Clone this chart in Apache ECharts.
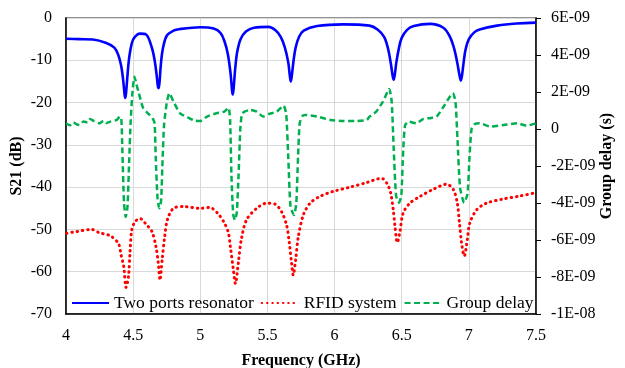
<!DOCTYPE html>
<html>
<head>
<meta charset="utf-8">
<script src="https://cdn.jsdelivr.net/npm/echarts@6/dist/echarts.min.js"></script>
<style>
  html, body { margin: 0; padding: 0; background: #fff; }
  #chart { width: 625px; height: 368px; }
</style>
</head>
<body>
<div id="chart"></div>
<script>
// Two-port resonator transmission (dB)
const resonatorFreq = [4.00, 4.10, 4.20, 4.30, 4.36, 4.39, 4.41, 4.425, 4.437, 4.442, 4.448, 4.458, 4.47, 4.49, 4.51, 4.55,
  4.596, 4.64, 4.66, 4.675, 4.685, 4.69, 4.697, 4.705, 4.72, 4.75, 4.80, 4.85, 5.00, 5.10,
  5.15, 5.18, 5.205, 5.225, 5.237, 5.242, 5.25, 5.26, 5.275, 5.30, 5.34, 5.40, 5.507,
  5.56, 5.60, 5.63, 5.655, 5.668, 5.674, 5.682, 5.695, 5.71, 5.735, 5.77, 5.87, 6.065, 6.26,
  6.32, 6.37, 6.40, 6.42, 6.433, 6.44, 6.448, 6.46, 6.48, 6.50, 6.54, 6.59, 6.71, 6.81,
  6.86, 6.89, 6.915, 6.93, 6.94, 6.948, 6.96, 6.975, 7.00, 7.04, 7.08, 7.21, 7.355, 7.50];
const resonatorS21 = [-4.9, -5.0, -5.1, -5.9, -7.0, -8.8, -11.2, -14.5, -18.3, -18.9, -17.5, -13.5, -9.5, -6.0, -4.6, -3.7,
  -3.9, -7.1, -10.0, -13.5, -16.3, -16.6, -15.0, -11.5, -7.5, -4.2, -3.0, -2.6, -2.2, -2.5,
  -3.5, -5.5, -8.5, -13.0, -17.3, -18.1, -16.0, -12.0, -8.0, -5.0, -3.2, -2.3, -2.1,
  -2.9, -4.5, -7.0, -10.5, -14.0, -15.0, -13.5, -10.0, -7.0, -4.5, -3.0, -1.9, -1.5, -1.8,
  -2.7, -4.5, -7.5, -11.0, -13.8, -14.6, -13.5, -10.5, -7.0, -4.7, -2.8, -1.9, -1.4, -2.3,
  -4.5, -7.2, -10.8, -13.5, -14.8, -13.8, -10.8, -7.5, -5.0, -3.4, -2.7, -1.8, -1.3, -1.1];

// RFID system transmission (dB)
const rfidFreq = [4.005, 4.08, 4.19, 4.25, 4.33, 4.39, 4.41, 4.43, 4.447, 4.465, 4.477, 4.49, 4.514, 4.55,
  4.60, 4.64, 4.67, 4.687, 4.70, 4.716, 4.735, 4.755, 4.80, 4.875, 5.00, 5.07,
  5.13, 5.18, 5.21, 5.224, 5.245, 5.262, 5.283, 5.307, 5.345, 5.42, 5.495, 5.556,
  5.605, 5.642, 5.662, 5.68, 5.692, 5.71, 5.73, 5.767, 5.817, 5.89, 5.99, 6.115, 6.24,
  6.35, 6.39, 6.418, 6.437, 6.45, 6.467, 6.487, 6.51, 6.56, 6.636, 6.735, 6.835,
  6.885, 6.914, 6.93, 6.946, 6.966, 6.988, 7.007, 7.057, 7.13, 7.256, 7.38, 7.50];
const rfidS21 = [-50.9, -50.5, -50.0, -50.8, -51.5, -53.3, -56.0, -58.8, -63.7, -61.2, -55.3, -50.1, -48.2, -47.4,
  -48.9, -50.5, -54.1, -58.0, -62.0, -57.2, -51.7, -47.7, -45.0, -44.6, -45.0, -44.8,
  -46.2, -48.5, -50.9, -54.1, -59.2, -62.8, -58.0, -52.1, -47.7, -45.0, -43.8, -44.0,
  -45.8, -48.9, -52.9, -58.0, -60.8, -57.2, -51.7, -46.6, -43.8, -42.2, -41.0, -40.0, -38.9,
  -37.9, -39.1, -41.4, -45.4, -49.3, -53.1, -50.5, -46.2, -43.8, -42.2, -40.5, -39.3,
  -40.6, -43.8, -48.5, -53.3, -56.3, -52.5, -48.5, -45.4, -43.8, -42.8, -42.1, -41.3];

// Group delay (ns)
const delayFreq = [4.00, 4.03, 4.054, 4.08, 4.10, 4.13, 4.16, 4.18, 4.21, 4.25, 4.28, 4.30, 4.33, 4.36, 4.38, 4.40,
  4.412, 4.42, 4.432, 4.445, 4.458, 4.47, 4.482, 4.495, 4.51, 4.525, 4.54, 4.575, 4.61, 4.645,
  4.66, 4.668, 4.682, 4.695, 4.708, 4.72, 4.73, 4.75, 4.77, 4.80, 4.85, 4.92, 4.96, 5.00, 5.05,
  5.12, 5.18, 5.21, 5.222, 5.232, 5.245, 5.258, 5.272, 5.285, 5.298, 5.31, 5.33, 5.37, 5.42,
  5.47, 5.51, 5.57, 5.62, 5.64, 5.655, 5.672, 5.698, 5.715, 5.728, 5.74, 5.76, 5.78, 5.87,
  5.97, 6.065, 6.165, 6.24, 6.26, 6.31, 6.36, 6.407, 6.425, 6.44, 6.458, 6.48, 6.497, 6.512,
  6.525, 6.55, 6.61, 6.66, 6.72, 6.76, 6.82, 6.88, 6.90, 6.915, 6.935, 6.965, 6.99, 7.005,
  7.02, 7.04, 7.08, 7.16, 7.26, 7.36, 7.43, 7.50];
const delayNs = [0.31, 0.20, 0.36, 0.25, 0.22, 0.40, 0.35, 0.54, 0.42, 0.31, 0.45, 0.33, 0.40, 0.45, 0.50, 0.67,
  0.55, -1.2, -4.0, -4.75, -4.2, -1.8, 0.5, 2.0, 2.83, 2.4, 2.0, 1.12, 0.85, 0.58,
  0.3, -1.5, -3.8, -4.28, -3.9, -1.5, 0.2, 1.4, 1.93, 1.48, 0.85, 0.58, 0.45, 0.43, 0.67,
  0.85, 0.94, 1.15, 0.5, -2.5, -4.6, -4.92, -4.5, -2.5, 0.0, 0.8, 0.94, 1.03, 0.94,
  0.67, 0.81, 0.94, 1.26, 0.8, -1.5, -4.2, -4.65, -4.0, -1.5, 0.3, 0.7, 0.76, 0.67,
  0.49, 0.43, 0.43, 0.49, 0.67, 0.94, 1.48, 2.16, 1.5, -1.0, -3.6, -3.98, -3.6, -1.0,
  0.2, 0.40, 0.31, 0.54, 0.60, 0.67, 1.30, 1.93, 1.5, -0.5, -3.2, -3.98, -3.5, -1.5,
  0.0, 0.25, 0.31, 0.13, 0.22, 0.31, 0.18, 0.31];

// Axis ticks
const freqTicks = [4, 4.5, 5, 5.5, 6, 6.5, 7, 7.5];
const s21Ticks = [-70, -60, -50, -40, -30, -20, -10, 0];
const delayTicksNs = [-10, -8, -6, -4, -2, 0, 2, 4, 6];
const delayTickLabels = ['-1E-08', '-8E-09', '-6E-09', '-4E-09', '-2E-09', '0', '2E-09', '4E-09', '6E-09'];

const seriesNames = ['Two ports resonator', 'RFID system', 'Group delay'];

const pairs = (xs, ys) => xs.map((x, i) => [x, ys[i]]);

const FONT = 'Liberation Serif';
const chart = echarts.init(document.getElementById('chart'), null, { renderer: 'canvas' });

chart.setOption({
  animation: false,
  backgroundColor: '#ffffff',
  textStyle: { fontFamily: FONT, color: '#000' },
  grid: {
    left: 66, right: 89, top: 18, bottom: 54,
    containLabel: false, outerBoundsMode: 'none',
    show: true, borderColor: '#707070', borderWidth: 1.5, backgroundColor: 'transparent'
  },
  legend: {
    data: seriesNames,
    left: 71, top: 294, padding: 0,
    itemWidth: 37, itemHeight: 14, itemGap: 7,
    itemStyle: { opacity: 0 },
    textStyle: { fontFamily: FONT, fontSize: 17.5, color: '#000' }
  },
  xAxis: {
    type: 'value',
    min: freqTicks[0], max: freqTicks[freqTicks.length - 1], interval: 0.5,
    name: 'Frequency (GHz)', nameLocation: 'middle', nameGap: 39,
    nameTextStyle: { fontFamily: FONT, fontSize: 16, fontWeight: 'bold', color: '#000' },
    axisLine: { show: true, onZero: false, lineStyle: { color: '#000', width: 1.5 } },
    axisTick: { show: false },
    axisLabel: { fontFamily: FONT, fontSize: 16, color: '#000', margin: 14 },
    splitLine: { show: true, lineStyle: { color: '#d9d9d9', width: 1 } }
  },
  yAxis: [
    {
      type: 'value',
      min: s21Ticks[0], max: s21Ticks[s21Ticks.length - 1], interval: 10,
      name: 'S21 (dB)', nameLocation: 'middle', nameGap: 41, nameRotate: 90, nameMoveOverlap: false,
      nameTextStyle: { fontFamily: FONT, fontSize: 16, fontWeight: 'bold', color: '#000' },
      axisLine: { show: true, onZero: false, lineStyle: { color: '#000', width: 1.5 } },
      axisTick: { show: false },
      axisLabel: { fontFamily: FONT, fontSize: 16, color: '#000', margin: 14 },
      splitLine: { show: true, lineStyle: { color: '#d9d9d9', width: 1 } }
    },
    {
      type: 'value', position: 'right',
      min: delayTicksNs[0], max: delayTicksNs[delayTicksNs.length - 1], interval: 2,
      name: 'Group delay (s)', nameLocation: 'middle', nameGap: 63, nameRotate: 90, nameMoveOverlap: false,
      nameTextStyle: { fontFamily: FONT, fontSize: 16, fontWeight: 'bold', color: '#000' },
      axisLine: { show: true, onZero: false, lineStyle: { color: '#000', width: 1.5 } },
      axisTick: { show: true, inside: false, length: 5, lineStyle: { color: '#000', width: 1 } },
      axisLabel: {
        fontFamily: FONT, fontSize: 16, color: '#000', margin: 15,
        formatter: v => {
          const i = delayTicksNs.findIndex(t => Math.abs(t - v) < 1e-6);
          return i >= 0 ? delayTickLabels[i] : '';
        }
      },
      splitLine: { show: false }
    }
  ],
  series: [
    {
      name: seriesNames[0], type: 'line', yAxisIndex: 0,
      data: pairs(resonatorFreq, resonatorS21),
      symbol: 'none', smooth: 0.35,
      lineStyle: { color: '#0000ff', width: 2.6 },
      itemStyle: { color: '#0000ff' }
    },
    {
      name: seriesNames[1], type: 'line', yAxisIndex: 0,
      data: pairs(rfidFreq, rfidS21),
      symbol: 'none', smooth: 0.3,
      lineStyle: { color: '#ff0000', width: 3, type: [0.5, 4.8], cap: 'round' },
      itemStyle: { color: '#ff0000' }
    },
    {
      name: seriesNames[2], type: 'line', yAxisIndex: 1,
      data: pairs(delayFreq, delayNs),
      symbol: 'none', smooth: 0.2,
      lineStyle: { color: '#00b050', width: 2.5, type: [6, 3.5] },
      itemStyle: { color: '#00b050' }
    }
  ]
});
</script>
</body>
</html>
